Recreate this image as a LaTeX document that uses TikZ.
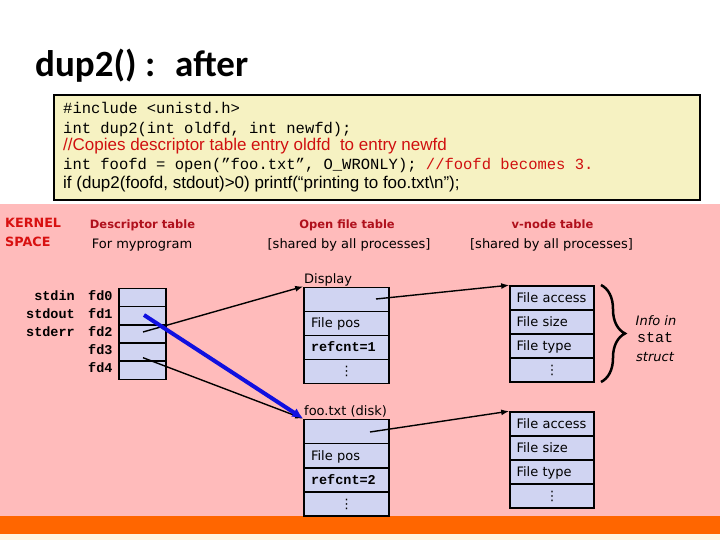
\documentclass[tikz,border=0pt]{standalone}
\usepackage{fontspec}
\setmainfont{DejaVu Sans}
\newfontfamily\calfont{Carlito}
\newfontfamily\monofont{Liberation Mono}
\newfontfamily\arialfont{Liberation Sans}
\usetikzlibrary{arrows.meta,decorations.pathreplacing}
\definecolor{pinkbg}{HTML}{FFBBBB}
\definecolor{orangebar}{HTML}{FF6600}
\definecolor{creambar}{HTML}{FFF6E4}
\definecolor{cellfill}{HTML}{D0D4F2}
\definecolor{codebg}{HTML}{F6F2C2}
\definecolor{hdrred}{HTML}{B0101C}
\definecolor{kred}{HTML}{D81010}
\definecolor{cred}{HTML}{D01010}
\definecolor{fdblue}{HTML}{1010E0}
\begin{document}
\begin{tikzpicture}[x=1pt,y=-1pt,
  lbl/.style={inner sep=0pt, font=\fontsize{13}{15}\selectfont},
  redhdr/.style={inner sep=0pt, text=hdrred, font=\fontsize{11.5}{14}\selectfont\bfseries},
  kern/.style={inner sep=0pt, text=kred, font=\fontsize{12.75}{15}\selectfont\bfseries},
  codeline/.style={inner sep=0pt, anchor=base west, font=\fontsize{15.5}{18}\selectfont\monofont},
  sansline/.style={inner sep=0pt, anchor=base west, font=\fontsize{17}{19}\selectfont\arialfont},
  monolbl/.style={inner sep=0pt, font=\fontsize{13.5}{15}\selectfont\monofont\bfseries},
  dcell/.style={draw=black, line width=1.6pt, fill=cellfill, minimum width=47pt, minimum height=18.2pt, inner sep=0pt},
  ocell/.style={draw=black, line width=1.6pt, fill=cellfill, minimum width=85pt, minimum height=24pt,
     inner sep=0pt, text width=71pt, align=left, text height=10.5pt, text depth=1.5pt,
     font=\fontsize{13}{15}\selectfont},
  vcell/.style={ocell, minimum width=84pt},
  dotcell/.style={align=center, text height=8pt, text depth=0pt},
  arr/.style={-{Latex[length=8pt,width=6pt]}, line width=1.4pt, draw=black},
  bluearr/.style={-{Latex[length=11pt,width=10pt]}, line width=4pt, draw=fdblue}
]
\useasboundingbox (0,0) rectangle (720,540);
\fill[white] (0,0) rectangle (720,540);
% backgrounds
\fill[pinkbg] (0,204) rectangle (720,516);
\fill[orangebar] (0,516) rectangle (720,534);
\fill[creambar] (0,534) rectangle (720,540);

% title
\node[inner sep=0pt, anchor=base west, font=\fontsize{37}{40}\selectfont\calfont\bfseries] (title) at (35,77) {dup2() :\hspace{20pt}after};

% code box
\node[draw=black, line width=2pt, fill=codebg, minimum width=646pt, minimum height=105pt, inner sep=0pt] (code) at (377,147.5) {};
\node[codeline] (c1) at (63,114) {\#include <unistd.h>};
\node[codeline] (c2) at (63,133.3) {int dup2(int oldfd, int newfd);};
\node[sansline, text=cred] (c3) at (63,151) {//Copies descriptor table entry oldfd\ \ to entry newfd};
\node[codeline] (c4) at (63,170) {int foofd = open(”foo.txt”, O\_WRONLY); \textcolor{cred}{//foofd becomes 3.}};
\node[sansline] (c5) at (63,189) {if (dup2(foofd, stdout)>0) printf(“printing to foo.txt\textbackslash n”);};

% headers
\node[kern, anchor=base west] (k1) at (5,227) {KERNEL};
\node[kern, anchor=base west] (k2) at (5,247) {SPACE};
\node[redhdr, anchor=base] (h1) at (142.5,229) {Descriptor table};
\node[lbl, anchor=base] (h1b) at (142,248) {For myprogram};
\node[redhdr, anchor=base] (h2) at (347,229) {Open file table};
\node[lbl, anchor=base] (h2b) at (349,248) {[shared by all processes]};
\node[redhdr, anchor=base] (h3) at (552.5,229) {v-node table};
\node[lbl, anchor=base] (h3b) at (551.5,248) {[shared by all processes]};

% descriptor table
\node[dcell] (fd0) at (142.5,297.4) {};
\node[dcell] (fd1) at (142.5,315.6) {};
\node[dcell] (fd2) at (142.5,333.8) {};
\node[dcell] (fd3) at (142.5,352.0) {};
\node[dcell] (fd4) at (142.5,370.2) {};
\foreach \n/\y in {0/297.4,1/315.6,2/333.8,3/352.0,4/370.2}{
  \node[monolbl, anchor=mid west] (fdl\n) at (88,\y) {fd\n};
}
\node[monolbl, anchor=mid east] (sin) at (75,297.4) {stdin};
\node[monolbl, anchor=mid east] (sout) at (75,315.6) {stdout};
\node[monolbl, anchor=mid east] (serr) at (75,333.8) {stderr};

% open file table: Display
\node[lbl, anchor=base west] (displbl) at (304,283.3) {Display};
\node[ocell] (d1) at (346.5,299.3) {};
\node[ocell] (d2) at (346.5,323.3) {File pos};
\node[ocell] (d3) at (346.5,347.3) {{\fontsize{13.5}{15}\selectfont\monofont\bfseries refcnt=1}};
\node[ocell, dotcell] (d4) at (346.5,371.3) {⋮};

% open file table: foo.txt
\node[lbl, anchor=base west] (foolbl) at (304,415) {foo.txt (disk)};
\node[ocell] (f1) at (346.5,431.4) {};
\node[ocell] (f2) at (346.5,455.6) {File pos};
\node[ocell] (f3) at (346.5,479.8) {{\fontsize{13.5}{15}\selectfont\monofont\bfseries refcnt=2}};
\node[ocell, dotcell] (f4) at (346.5,504) {⋮};

% v-node tables
\node[vcell] (v1) at (552,298) {File access};
\node[vcell] (v2) at (552,322) {File size};
\node[vcell] (v3) at (552,346) {File type};
\node[vcell, dotcell] (v4) at (552,370) {⋮};
\node[vcell] (w1) at (552,424) {File access};
\node[vcell] (w2) at (552,448) {File size};
\node[vcell] (w3) at (552,472) {File type};
\node[vcell, dotcell] (w4) at (552,496) {⋮};

% brace and note
\draw[line width=2.5pt, decorate, decoration={brace, amplitude=24pt}] (601,285) -- (601,382);
\node[lbl, anchor=base, font=\fontsize{13}{15}\selectfont\itshape] (i1) at (656,325) {Info in};
\node[inner sep=0pt, anchor=base, font=\fontsize{15}{17}\selectfont\monofont] (i2) at (655,342.7) {stat};
\node[lbl, anchor=base, font=\fontsize{13}{15}\selectfont\itshape] (i3) at (655,361.7) {struct};

% connectors
\coordinate (p1) at (144,315);
\coordinate (p2) at (143,332);
\coordinate (p3) at (143,357.7);
\coordinate (q1) at (376,299);
\coordinate (q2) at (370,432);
\draw[arr] (p2) -- (d1.north west);
\draw[arr] (p3) -- (f1.north west);
\draw[bluearr] (p1) -- (f1.north west);
\draw[arr] (q1) -- (v1.north west);
\draw[arr] (q2) -- (w1.north west);
\end{tikzpicture}
\end{document}
